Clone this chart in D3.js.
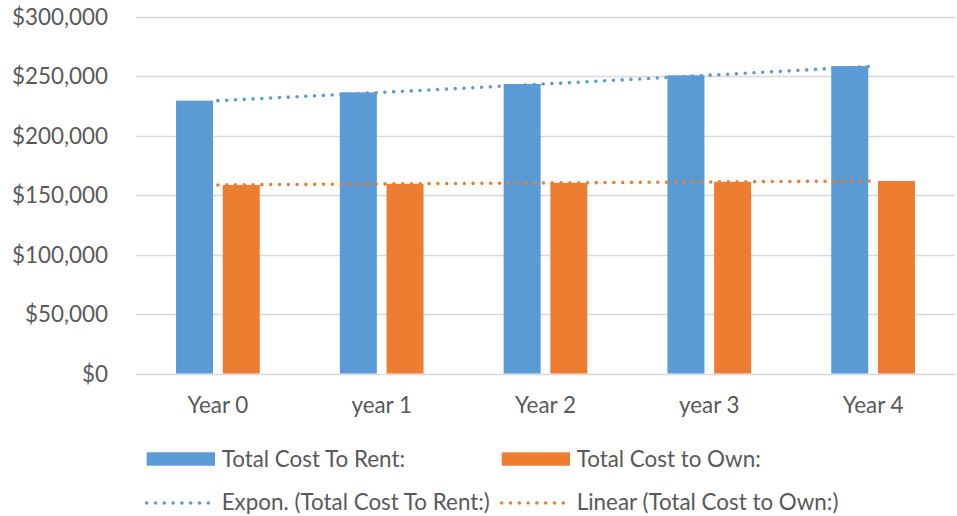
<!DOCTYPE html>
<meta charset="utf-8">
<style>
body { margin: 0; background: #fff; }
text { font-family: Lato, "Open Sans", sans-serif; font-size: 22.4px; fill: #595959; }
.grid line { stroke: #d9d9d9; stroke-width: 1.3px; }
.trend { fill: none; stroke-width: 3.6px; stroke-linecap: round; stroke-dasharray: 0 8.8; }
</style>
<body>
<div id="chart"></div>
<script src="https://d3js.org/d3.v7.min.js"></script>
<script>

var categories = ["Year 0", "year 1", "Year 2", "year 3", "Year 4"];
var rentValues = [229600, 236600, 243600, 250900, 258700];
var ownValues = [158600, 159600, 160400, 161200, 162000];
var yTicks = [0, 50000, 100000, 150000, 200000, 250000, 300000];

var seriesNames = ["Total Cost To Rent:", "Total Cost to Own:"];
var trendNames = ["Expon. (Total Cost To Rent:)", "Linear (Total Cost to Own:)"];
var colors = ["#5b9bd5", "#ed7d31"];

var width = 957,
    height = 516,
    plotLeft = 136,
    plotRight = 955,
    plotTop = 17,
    plotBottom = 373.5;

var svg = d3.select("#chart").append("svg")
    .attr("width", width)
    .attr("height", height);

var x = d3.scaleBand()
    .domain(categories)
    .range([plotLeft, plotRight]);

var y = d3.scaleLinear()
    .domain([0, 300000])
    .range([plotBottom, plotTop]);

var barWidth = 37,
    barGap = 9.7;

function center(d) { return x(d) + x.bandwidth() / 2; }

// gridlines
svg.append("g")
    .attr("class", "grid")
    .selectAll("line")
    .data(yTicks)
    .enter()
    .append("line")
    .attr("x1", plotLeft)
    .attr("x2", plotRight)
    .attr("y1", function (d) { return Math.round(y(d)) + 0.5; })
    .attr("y2", function (d) { return Math.round(y(d)) + 0.5; });

// y axis labels
svg.append("g")
    .selectAll("text")
    .data(yTicks)
    .enter()
    .append("text")
    .attr("x", 108)
    .attr("y", function (d) { return y(d); })
    .attr("dy", "0.36em")
    .attr("text-anchor", "end")
    .text(function (d) { return "$" + d3.format(",")(d); });

// x labels
svg.append("g")
    .selectAll("text")
    .data(categories)
    .enter()
    .append("text")
    .attr("x", center)
    .attr("y", 412.5)
    .attr("text-anchor", "middle")
    .text(function (d) { return d; });

// bars
svg.append("g")
    .selectAll("rect")
    .data(rentValues)
    .enter()
    .append("rect")
    .attr("x", function (d, i) { return center(categories[i]) - barGap / 2 - barWidth; })
    .attr("y", function (d) { return y(d); })
    .attr("width", barWidth)
    .attr("height", function (d) { return plotBottom - y(d); })
    .style("fill", colors[0]);

svg.append("g")
    .selectAll("rect")
    .data(ownValues)
    .enter()
    .append("rect")
    .attr("x", function (d, i) { return center(categories[i]) + barGap / 2; })
    .attr("y", function (d) { return y(d); })
    .attr("width", barWidth)
    .attr("height", function (d) { return plotBottom - y(d); })
    .style("fill", colors[1]);

// trendlines (least squares, x = 1..n)
function linearFit(vals) {
    var n = vals.length, sx = 0, sy = 0, sxy = 0, sxx = 0;
    vals.forEach(function (v, i) {
        var xi = i + 1;
        sx += xi; sy += v; sxy += xi * v; sxx += xi * xi;
    });
    var b = (n * sxy - sx * sy) / (n * sxx - sx * sx);
    var a = (sy - b * sx) / n;
    return { a: a, b: b };
}

var expFit = linearFit(rentValues.map(Math.log));
var linFit = linearFit(ownValues);

var xPos = d3.scaleLinear()
    .domain([1, categories.length])
    .range([center(categories[0]), center(categories[categories.length - 1])]);

var samples = d3.range(1, categories.length + 0.001, 0.05);

var line = d3.line()
    .x(function (d) { return xPos(d[0]); })
    .y(function (d) { return y(d[1]); });

svg.append("path")
    .attr("class", "trend")
    .attr("d", line(samples.map(function (t) { return [t, Math.exp(expFit.a + expFit.b * t)]; })))
    .style("stroke", colors[0]);

svg.append("path")
    .attr("class", "trend")
    .attr("d", line(samples.map(function (t) { return [t, linFit.a + linFit.b * t]; })))
    .style("stroke", colors[1]);

// legend
var legendX = [146.7, 501.7];

var legend1 = svg.append("g")
    .selectAll("g")
    .data(seriesNames)
    .enter()
    .append("g");

legend1.append("rect")
    .attr("x", function (d, i) { return legendX[i]; })
    .attr("y", 452.3)
    .attr("width", 68.3)
    .attr("height", 13.4)
    .style("fill", function (d, i) { return colors[i]; });

legend1.append("text")
    .attr("x", function (d, i) { return legendX[i] + 75; })
    .attr("y", 459)
    .attr("dy", "0.36em")
    .text(function (d) { return d; });

var legend2 = svg.append("g")
    .selectAll("g")
    .data(trendNames)
    .enter()
    .append("g");

legend2.append("line")
    .attr("class", "trend")
    .attr("x1", function (d, i) { return legendX[i]; })
    .attr("x2", function (d, i) { return legendX[i] + 63; })
    .attr("y1", 503)
    .attr("y2", 503)
    .style("stroke", function (d, i) { return colors[i]; });

legend2.append("text")
    .attr("x", function (d, i) { return legendX[i] + 75; })
    .attr("y", 502)
    .attr("dy", "0.36em")
    .text(function (d) { return d; });

</script>
</body>
